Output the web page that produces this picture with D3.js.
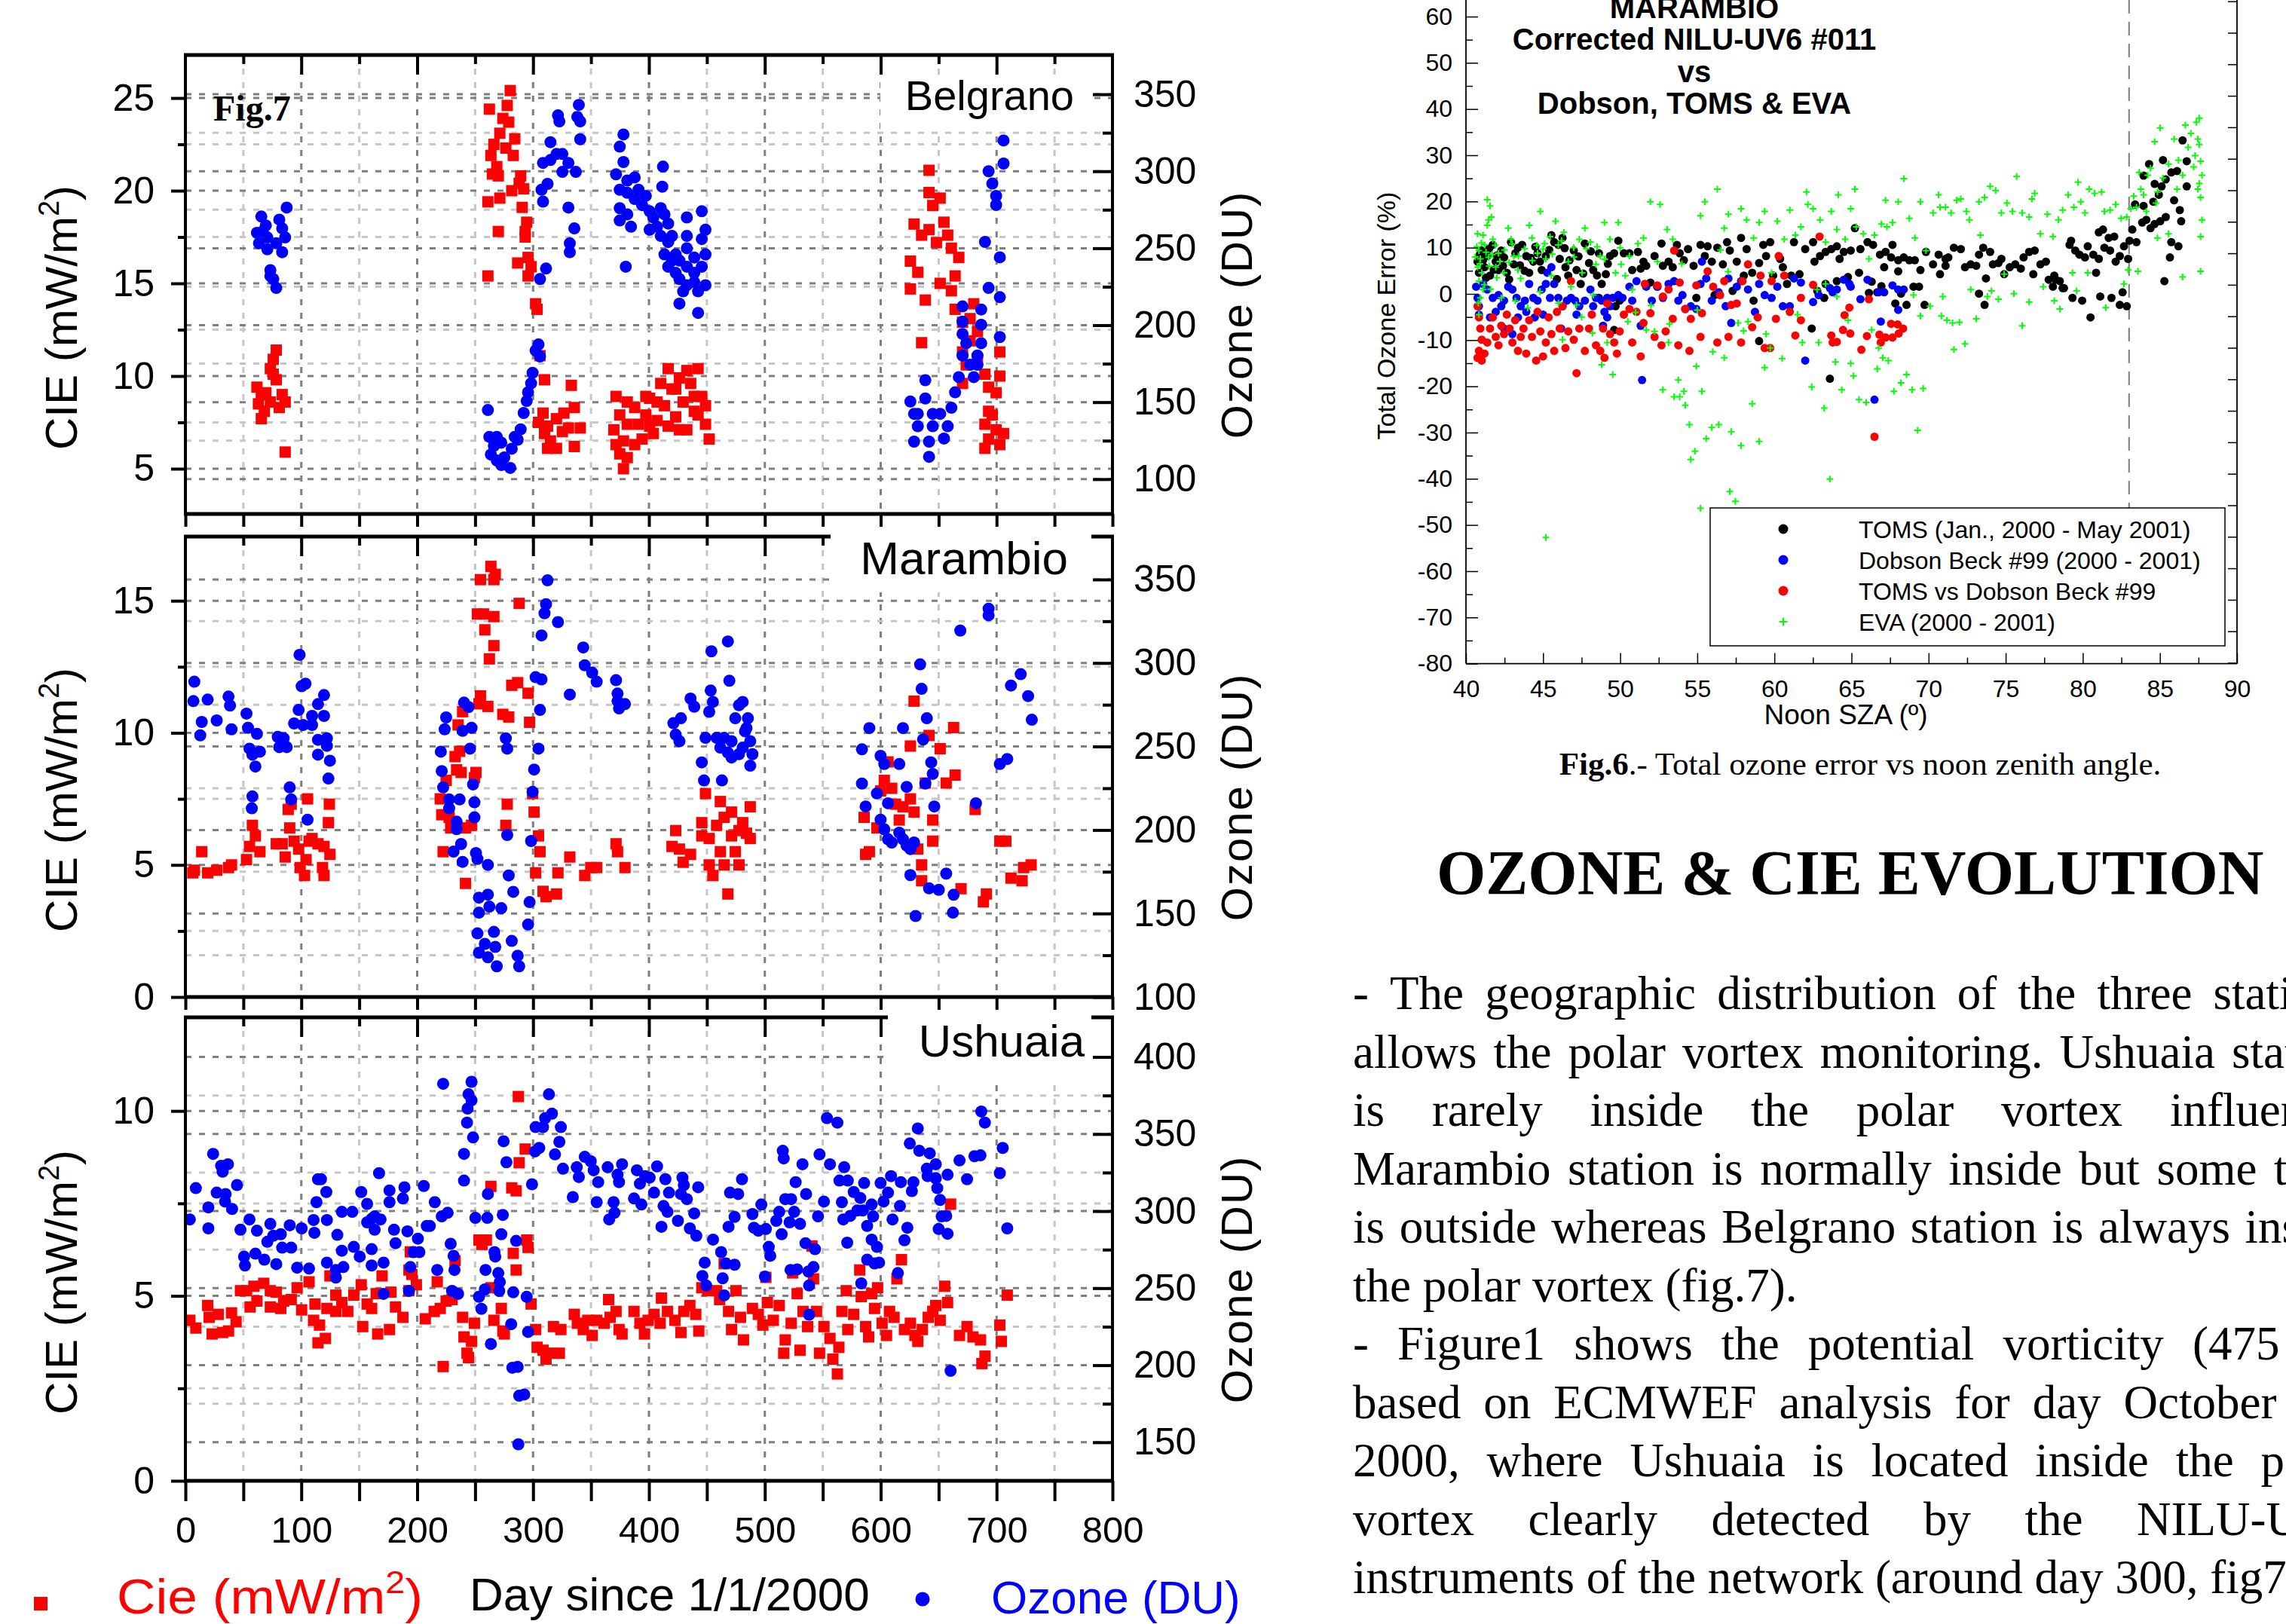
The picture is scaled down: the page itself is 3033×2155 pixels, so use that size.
<!DOCTYPE html>
<html>
<head>
<meta charset="utf-8">
<title>Ozone &amp; CIE evolution</title>
<script src="https://cdn.jsdelivr.net/npm/d3@7"></script>
<style>
  html, body { margin: 0; padding: 0; background: #fff; overflow: hidden; }
  svg { display: block; }
  .sans { font-family: "Liberation Sans", Arial, sans-serif; }
  .serif { font-family: "Liberation Serif", "Times New Roman", serif; }
</style>
</head>
<body>
<script>
// ---- Fig.7 data : [day since 1/1/2000, value] ----
const belgranoCie = [
  [78.4,11.4],[75.8,10.9],[73.3,10.4],[78.4,9.8],[61.7,9.4],[65.5,9],[69.4,9.1],[73.3,8.6],[83.5,9],[86.1,8.6],[81,8.3],[65.5,7.7],[68.1,8.1],[86.1,5.9],[63,8.5],[75.8,10.1],
  [280.3,25.4],[277.7,24.6],[262.3,24.4],[273.9,23.9],[279,23.7],[271.3,23.1],[284.2,22.8],[266.2,22.5],[276.5,22.3],[263.6,21.9],[282.9,21.9],[268.7,21.3],[264.9,20.9],[270,20.8],[289.3,20.8],[288,20.4],[291.9,20.1],[281.6,20],[271.3,19.6],[261,19.4],[290.6,19.1],[294.5,18.3],[293.2,17.8],[270,17.8],[293.2,17.5],[286.7,16.1],[295.7,16.4],[298.3,15.9],[295.7,15.4],[261,15.4],[302.2,13.9],[303.5,13.6],[306,11.1],[309.9,9.8],[333,9.5],[335.6,8.3],[308.6,8],[312.5,7.3],[320.2,7.7],[326.6,8],[330.5,7.2],[340.7,7.2],[315,6.5],[320.2,6.1],[335.6,6.2],[312.5,6.1],[309.9,6.9],[325.3,7],[304.7,7.5],
  [371.6,8.9],[374.8,7.9],[369.7,7.1],[378,6.5],[374.8,5.8],[378,5],[381.3,5.6],[387.7,8.3],[390.9,7.4],[397.3,7.9],[400.6,8.8],[403.8,6.9],[410.2,9.6],[413.4,8.4],[416.6,10.4],[419.9,9.3],[423.1,7.8],[426.3,9.9],[429.5,8.6],[432.7,7.1],[436,9.6],[439.1,8.1],[442.4,10.4],[445.6,8.9],[448.8,7.4],[452,6.6],[394.1,6.6],[407,7.6],[416.6,7.3],[426.3,7.1],[381.3,8.6],[387.7,6.3],[371.6,6.3],[397.3,8.9],[432.7,10.3],[442.4,7.9],[448.8,8.4],[381.3,7.4],[407,8.6],[423.1,9.3],[439.1,8.9],[400.6,7.3],
  [641.7,21.1],[641.7,19.9],[644.9,19.2],[651.3,19.6],[628.8,18.2],[635.3,17.6],[641.7,17.9],[648.1,17.2],[654.6,18.3],[657.8,17.6],[661,16.9],[625.6,16.2],[632,15.6],[664.2,15.4],[667.4,16.4],[625.6,14.7],[638.5,14.1],[651.3,15],[661,14.6],[664.2,13.6],[670.6,12.9],[677.1,13.1],[680.3,13.9],[683.5,12.4],[677.1,11.9],[635.3,11.8],[670.6,11.3],[673.8,10.6],[689.9,10.1],[670.6,9.6],[702.8,10],[693.1,9.4],[699.6,9.1],[693.1,8.1],[689.9,7.4],[699.6,7.1],[706,6.9],[693.1,6.6],[702.8,6.3],[689.9,6.1],[702.8,11.3],[696.3,7.9],[683.5,10.9]
];
const belgranoOzone = [
  [65.5,270.6],[61.7,260],[63.5,253.2],[69.4,264.8],[70.7,257],[70.7,249.3],[66.8,260.9],[81,268.6],[83.5,262.9],[86.1,257],[83.5,247.4],[78.4,253.2],[87.4,276.4],[73.3,235.8],[75.8,230],[78.4,224.2],[73.3,231.9],
  [261,144.9],[262.3,127.5],[268.7,127.5],[272.6,123.7],[266.2,121.7],[263.6,116],[268.7,112.1],[272.6,109.2],[280.3,107.3],[275.2,114.1],[281.6,119.8],[286.7,125.6],[289.3,132.4],[284.2,127.5],[291.9,143],[294.5,150.8],[295.7,156.5],[298.3,162.3],[299.6,169.1],[302.2,183.6],[304.7,187.5],[306,179.7],
  [306,230],[311.2,236.8],[308.6,280.3],[312.5,291.8],[307.3,288],[308.6,305.4],[315,307.3],[315,318.9],[320.2,311.2],[325.3,311.2],[325.3,299.6],[330.5,305.4],[336.9,299.6],[321.5,336.3],[322.7,332.4],[339.5,343.1],[338.2,335.3],[340.7,332.4],[340.7,320.8],[330.5,276.4],[335.6,262.9],[331.7,253.2],[331.7,247.4],
  [378,323.9],[374.8,316],[378,306],[371.6,298],[381.3,294],[374.8,288],[387.7,296],[412.1,303],[411.5,290],[381.3,286],[391,288],[397.3,284],[387.7,282],[374.8,276],[381.3,272],[374.8,268],[384.5,264],[394.1,278],[400.6,274],[403.8,270],[410.2,276],[413.4,272],[407,264],[416.6,266],[400.6,262],[410.2,258],[416.6,254],[413.4,246],[419.9,242],[416.6,238],[423.1,234],[426.3,230],[432.7,238],[432.7,226],[429.5,222],[439.1,228],[442.4,222],[445.6,238],[448.8,246],[445.6,256],[448.8,262],[445.6,274],[432.7,270],[432.7,258],[432.7,250],[426.3,214],[442.4,208],[380,238],[419.9,258],[423.1,246],[439.1,244],[439.1,234],[426.3,242],[448.8,226],
  [625.6,150.4],[628.8,142.4],[632,134.4],[628.8,124.4],[638.5,164.3],[638.5,152.4],[641.7,124.4],[644.9,134.4],[641.7,114.5],[651.3,142.4],[654.6,126.4],[657.8,134.4],[661,146.4],[664.2,156.4],[667.4,166.3],[670.6,180.3],[670.6,194.3],[670.6,202.3],[673.8,188.3],[677.1,174.3],[680.3,166.3],[683.5,180.3],[686.7,188.3],[686.7,200.3],[686.7,210.2],[670.6,212.2],[683.5,174.3],[702.8,192.3],[693.1,224.2],[702.8,218.2],[690,254.1],[702.8,244.1],[693.1,300],[696.3,292],[699.6,284],[699.6,278.1],[706,320],[706,305],[632,142.4],[644.9,142.4]
];
const marambioCie = [
  [6.4,4.7],[7.7,4.8],[19.2,4.7],[27,4.8],[37.2,4.9],[39.8,5],[14.1,5.5],[52.7,5.2],[55.3,5.7],[57.8,6.5],[60.4,6.1],[64.3,5.5],[83.5,5.8],[78.4,5.8],[86.1,5.3],[90,6.4],[88.7,7.1],[91.3,7.3],[93.8,5.9],[97.7,5.6],[99,4.9],[102.8,4.6],[104.1,5.2],[106.7,5.9],[109.3,6],[114.4,5.8],[118.3,4.9],[119.6,4.6],[124.7,5.4],[123.4,6.6],[124.2,7.3],[105.4,7.5],[119.6,5.7],
  [222.4,5.5],[221.2,6.9],[219.9,7.5],[225,8.2],[227.6,6.8],[228.9,6.4],[232.7,9.1],[234,8.6],[235.3,10.3],[239.2,10.8],[236.6,9.3],[237.9,8.5],[241.7,6.4],[246.9,6.5],[249.4,8.3],[250.7,8.5],[253.3,11.1],[254.6,11.4],[261,11],[273.9,10.7],[279,10.6],[281.6,11.8],[286.7,11.9],[295.7,11.5],[297,10.4],[277.7,7.3],[276.5,6.5],[299.6,7.7],[300.9,7],[304.7,6.1],[306,5.5],[302.2,4.7],[308.6,4],[311.2,3.8],[320.2,3.9],[241.7,4.3],[257.2,14.5],[252,14.5],[266.2,14.4],[258.4,13.9],[266.2,13.3],[262.3,12.8],[288,14.9],[254.6,15.8],[263.6,16.3],[267.4,16],[266.2,15.8],[331.7,5.3],[321.5,4.7],[344.6,4.6],[349.8,4.9],[354.9,4.9],[371.6,5.8],[372.9,5.5],[379.3,4.9],
  [419.9,5.7],[423.1,6.3],[426.3,5.6],[429.5,5.1],[435.9,5.4],[445.6,6.6],[448.8,7.7],[452,5],[455.2,4.6],[461.6,7.4],[445.6,6.1],[452,6],[458.4,6.5],[461.6,5.5],[464.9,5],[464.9,6.8],[468.1,3.9],[471.3,6.1],[474.5,5.5],[477.7,5],[480.9,6.6],[484.2,6.2],[487.4,7.2],[487.4,6],[471.3,7],[477.7,6.3],
  [585.7,6.8],[587,5.4],[590.2,5.5],[596.7,6.4],[599.9,7.8],[603.1,8.2],[606.3,8.9],[609.5,7.9],[612.8,7.3],[616,6.7],[619.2,7.2],[625.6,7.5],[628.8,11.2],[628.8,7],[625.6,9.5],[632,5.6],[635.3,5],[635.3,4.4],[638.5,8.1],[641.7,9.9],[644.9,5.9],[644.9,6.7],[651.3,9.4],[656.5,8.1],[662.9,10.2],[664.2,8.4],[669.3,4.1],[681.5,7.1],[688.6,3.6],[691.2,3.9],[702.8,5.9],[708,5.9],[712.4,4.5],[722,4.4],[723.3,4.9],[729.8,5]
];
const marambioOzone = [
  [7.7,288.8],[6.9,277.2],[19.2,278.1],[14.1,264.7],[12.8,256.7],[27,265.6],[37.2,279.9],[38.5,274.5],[39.8,260.3],[52.7,269.7],[54,261.2],[61.7,257.6],[55.3,248.7],[57.8,245.1],[64.3,246.9],[60.4,238],[57.8,220.1],[57.3,213],[79.7,255.8],[84.8,254.9],[81,249.6],[87.4,249.6],[98.5,304.9],[100.3,286.1],[103.6,287.6],[97.7,271.9],[93.8,263.8],[101.5,262.9],[109.3,262.9],[109.3,268.3],[114.4,275.4],[119.6,280.8],[119.6,268.3],[114.4,254],[122.1,254.9],[122.1,250.4],[114.4,245.1],[124.7,241.5],[123.4,230.8],[90,225.5],[91.3,218.3],[105.4,206.2],
  [225,267.4],[223.7,260.3],[220.4,246.9],[221.2,235.3],[222.4,225.5],[227.6,218.3],[227.6,213],[236.6,218.3],[240.4,276.3],[244.3,273.6],[239.2,259.4],[246.9,261.2],[245.6,248.7],[248.2,227.3],[249.4,216.6],[249.4,207.6],[234,205],[234,200.5],[237.9,191.6],[231.4,187.1],[239.2,180.9],[250.7,186.2],[252,182.7],[261,179.1],[253.3,159.5],[261,161.3],[253.3,150.5],[262.3,154.1],[272.6,153.2],[252,138.1],[266.2,139],[258.4,131.8],[267.4,130],[253.3,126.5],[261,123.8],[268.7,118.4],[281.6,133.6],[286.7,124.7],[288,118.4],[279,172.8],[282.9,163],[277.7,197],[297,156.8],[295.7,143.4],[298.3,193.4],[299.6,222.8],[300.9,236.2],[304.7,248.7],[276.5,254.9],[277.7,248.7],[306,271.9],[302.2,291.5],[307.3,290.2],[307.3,316.5],[309.9,329.8],[311.2,335.2],[312.5,349.5],[321.5,324.5],[331.7,281.1],[343.3,309.3],[344.6,298.6],[351,294.2],[354.9,288.8],[371.6,289.7],[372.9,281.7],[372.9,277.2],[374.2,272.8],[379.3,275.4],
  [421.1,264],[423.1,257.1],[426.3,253.2],[427.6,266.9],[435.9,278.7],[439.1,273.8],[448.8,255.2],[452,270.8],[455.2,276.7],[453.3,283.5],[453.9,307],[468.1,312.9],[469.4,289.4],[445.6,240.5],[447.5,229.7],[463,229.7],[458.4,255.2],[464.9,255.2],[471.3,253.2],[461.6,249.3],[468.1,246.4],[471.3,243.4],[477.7,245.4],[480.9,249.3],[474.5,266.9],[477.7,274.7],[480.9,276.7],[485.4,266.9],[484.2,261],[487.4,253.2],[489.3,245.4],[487.4,238.5],[482.9,259.1],
  [583.8,248.3],[590.2,261],[583.8,227.8],[587,214.1],[596.7,221.9],[599.9,244.4],[603.1,239.5],[606.3,216],[599.9,206.2],[603.1,200.4],[606.3,194.5],[609.5,192.5],[616,198.4],[619.2,194.5],[622.4,190.6],[625.6,188.6],[628.8,192.5],[619.2,261],[616,239.5],[622.4,225.8],[625.6,173],[630.1,148.5],[635.3,284.5],[634,299.2],[639.8,266.9],[636.6,254.2],[638.5,227.8],[643.6,240.5],[644.9,233.6],[646.2,214.1],[641.7,165.1],[650.1,164.2],[656.5,173.9],[662.9,161.2],[662.3,150.5],[668.7,319.4],[682.2,216],[693.1,332.5],[693.1,328.6],[702.8,239.5],[709.2,242.5],[712.4,286.5],[720.8,293.3],[727.2,280.2],[730.4,266]
];
const ushuaiaCie = [
  [3.8,4.34],[9,4.13],[19.2,4.74],[20.5,4.42],[23.1,3.97],[28.3,4.5],[32.1,4.01],[37.2,4.05],[39.8,4.54],[43.7,4.3],[47.5,5.14],[52.7,5.14],[55.8,4.7],[61.7,4.86],[59.1,5.26],[67.6,5.34],[73.3,5.14],[73.3,4.7],[78.4,5.1],[82.3,4.66],[84.8,4.86],[91.3,4.9],[96.4,5.22],[100.3,4.62],[106.7,5.38],[111.8,4.78],[110.6,4.34],[115.7,4.21],[114.4,3.73],[120.8,3.85],[122.1,4.66],[129.8,4.58],[124.7,5.54],[129.8,5.02],[135,4.82],[140.1,4.58],[145.3,5.02],[151.7,5.3],[153,4.17],[156.8,4.78],[160.7,4.66],[165.9,3.97],[164.6,5.06],[169.7,5.54],[176.1,4.09],[177.4,5.1],[181.3,4.7],[187.7,4.42],[192.9,5.7],[192.9,5.14],[194.1,6.19],[195.4,5.58],[199.3,5.3],[207,4.38],[214.7,4.58],[217.3,5.38],[222.4,3.09],[219.9,4.66],[225,4.86],[230.1,4.9],[232.7,5.95],[239.2,4.42],[240.4,3.89],[243,3.45],[244.3,3.33],[246.9,3.77],[249.4,4.26],[253.3,6.51],[255.9,6.39],[259.7,6.51],[263.6,7.96],[266.2,4.34],[272.6,4.66],[273.9,4.05],[275.2,3.97],[263.6,5.22],[285.4,5.7],[282.9,6.15],[281.6,7.92],[285.4,7.84],[288,8.6],[287.3,10.39],[293.2,8.97],[294.5,6.51],[295.7,6.31],[298.3,4.78],[302.2,4.09],[303.5,3.61],[308.6,3.53],[311.2,3.29],[313.7,3.45],[317.6,4.17],[322.7,3.45],[324,4.09],[338.2,4.26],[343.3,4.09],[351,3.93],[354.9,4.34],[361.3,4.26],[365.2,4.9],[366.5,4.42],[371.6,4.58],[374.2,4.09],[376.8,3.97],[387.1,4.58],[392.2,4.26],[396.1,3.97],[335.6,4.5],[347.2,4.34],
  [399.3,4.34],[404.4,4.5],[410.8,4.94],[409.6,4.26],[416,4.58],[422.4,4.34],[427.6,4.01],[430.1,4.58],[435.3,4.74],[440.4,4.5],[443,4.05],[445.6,5.22],[450.7,5.14],[458.4,5.14],[464.9,5.87],[461,4.9],[468.7,4.58],[471.3,4.09],[475.1,5.14],[479,4.42],[481.6,3.81],[489.3,4.66],[494.4,4.5],[498.3,4.21],[502.2,4.82],[500.9,5.5],[507.3,4.34],[512.4,4.74],[517.6,3.81],[516.3,3.45],[522.7,4.26],[524,5.62],[527.9,5.06],[530.4,3.53],[533,4.58],[536.9,4.17],[540.7,6.35],[542,5.46],[544.6,4.58],[547.2,3.45],[551,4.17],[556.2,3.85],[558.7,3.29],[562.6,2.89],[563.9,3.61],[566.5,4.58],[570.3,5.14],[571.6,4.09],[576.7,4.5],[581.9,5.7],[583.2,4.98],[587,4.17],[589.6,3.89],[592.2,5.06],[594.7,4.66],[597.3,5.22],[601.2,4.26],[605,3.93],[607.6,4.58],[611.5,4.42],[614,5.46],[617.9,5.98],[620.5,4.09],[625.6,4.26],[629.5,3.93],[632,3.77],[635.9,4.09],[641,4.42],[644.9,4.58],[647.5,4.74],[651.3,4.34],[655.2,5.26],[657.7,4.82],[660.3,7.48],[668,3.93],[674.5,4.17],[679.6,3.89],[686.1,3.81],[687.3,3.17],[690,3.37],[702.8,4.21],[704.1,3.77],[709.2,5.02]
];
const ushuaiaOzone = [
  [3.8,294.6],[9,314.9],[23.9,337.1],[19.8,302.4],[19.8,288.8],[30.8,329.4],[36.7,330.4],[32.1,325.6],[27,312],[34.7,311.1],[34.2,306.2],[40.3,301.4],[44.5,316.9],[47.5,287.9],[55.3,294.6],[61.7,287.3],[50.6,270.5],[51.4,264.7],[60.4,272.4],[68.1,268.5],[73.3,291.7],[70.7,280.1],[75.8,284],[82.3,285],[83.5,276.3],[91.3,276.3],[78.4,265.6],[90,290.8],[100.3,288.8],[96.4,263.3],[106.7,262.7],[110.6,294.2],[113.1,305.8],[114.4,320.7],[117,320.7],[121.6,312.4],[122.1,294.2],[111.3,285.9],[131.1,284.6],[135,299.5],[144,299.5],[122.1,266.6],[129.8,256.9],[129.8,261.8],[136.3,263.7],[135,274.3],[145.3,276.8],[150.4,270.5],[151.7,312.4],[156.8,304.7],[160.7,295],[163.3,296.6],[167.1,324.6],[168.4,294.6],[160.7,275.3],[160.7,264.7],[156.8,292.7],[163.3,287.9],[171,266.6],[171,246.3],[176.1,313.4],[176.1,305.8],[180,287.9],[181.3,279.2],[189,315.5],[187.7,308.2],[191.6,286.9],[194.1,263.7],[192.9,248.2],[196.7,273.4],[200.6,282.1],[205.7,316.3],[201.9,273.4],[215.2,305.8],[208.3,290.4],[210.9,290.4],[221.2,296.6],[226.3,298.9],[222.4,382.6],[217.3,261.8],[228.9,278.8],[231.4,271],[232.2,261.8],[230.1,248.2],[235.3,246.3],[240.4,337.1],[240.4,319.8],[243,357.4],[243.5,366.5],[244.3,375.8],[246.9,383.9],[246.9,371.9],[248.2,347.8],[250.2,295.6],[255.4,236.6],[253.3,244.4],[258.4,249.2],[259,261.8],[260.5,295.6],[261,311.1],[266.7,273.4],[267.4,270.5],[270,259.8],[271.3,254],[270.8,248.2],[272.6,285],[273.9,297.5],[274.6,345.3],[277,331.7],[263.6,213.8],[281.1,226.6],[282.9,247.3],[285.4,280.7],[294.5,244.4],[295.7,221.6],[282.1,198.4],[286.7,198.9],[288,180.2],[292.4,181],[287.3,148.7],[299.1,317.4],[301.7,338.7],[305.3,341],[302.2,354.5],[308.6,354.5],[313.7,375.8],[310.4,360.3],[316.3,363.2],[318.9,336.8],[322.7,344.9],[324,354.5],[325.8,327.5],[334.3,309.1],[337.7,328.5],[339.5,322.1],[344.6,335.2],[349.8,332.3],[352.3,326.5],[356.2,318.8],[354.9,305.8],[364.4,328.5],[369.5,305.8],[370.3,298.9],[365.7,294.6],[372.9,323.6],[374.2,318.8],[376.8,330.4],[389.6,326.5],[387.1,308.2],[392.2,317.8],[393.5,304.3],
  [396.7,322.7],[400.6,321.7],[407,329],[404.4,312],[412.6,303.3],[416,299.5],[410.8,289.8],[414.2,320.7],[417.3,312],[425,293.7],[428.9,321.7],[430.1,316.9],[427.6,311.1],[432.7,307.8],[435.3,288.8],[439.1,298.5],[440.9,284],[442.5,315.5],[455.3,281.5],[462.3,273.4],[466.1,266],[473.9,265.2],[448.1,266.6],[446.1,257.9],[449.4,251.7],[463.6,256.4],[464.9,245.3],[470,312],[477,311.1],[468.7,289.8],[473.9,296.2],[480.3,320.7],[489.3,298.1],[497,304.3],[494.4,287.3],[500.9,288.4],[490.6,289.2],[503.4,276.8],[504.7,271],[500.1,257.5],[509.9,293.7],[512.4,299.5],[515.5,339.1],[516.3,334.2],[514.5,285],[517.6,307.8],[522.7,307.8],[521.4,292.7],[525.3,299.5],[526.6,318.8],[530.4,291.7],[532.5,330.4],[535.6,311.1],[522.2,261.8],[527.9,262.2],[537.6,260.8],[542,263.7],[535.1,279.2],[543.3,275.3],[538.2,251.7],[538.2,232.8],[545.9,296.6],[547.2,336.8],[551,306.2],[553.6,360.3],[556.2,330.4],[562.6,357.4],[564.4,319.8],[566.5,305.8],[568.5,328.5],[571.6,319.8],[567.7,294.6],[573.7,296.9],[571.1,279.5],[576.7,312.4],[582.4,308.5],[585.7,318.2],[579.8,300.4],[584.5,300.4],[588.3,290.4],[592.2,304.3],[593.5,296.6],[592.2,281.5],[596.8,276.8],[588.3,268.5],[594.7,266],[598.6,266.6],[583.2,253.1],[599.9,318.2],[606.3,312],[602.5,306.2],[608.9,322.7],[610.2,294.6],[617.4,318.8],[616.6,303.3],[620.5,281.1],[623,289.2],[626.9,313],[628.2,318.8],[614.8,259.8],[625.1,343.9],[632,353.6],[633.3,339.1],[642.3,337.5],[639.8,327.5],[640.5,322.7],[647.5,330.4],[647.5,321.3],[648.8,314.9],[651.3,307.2],[652.6,296.6],[656.5,296.9],[650,288.4],[657.7,285.3],[657.7,323.6],[668,332.9],[674.5,320.7],[680.9,335.6],[686.1,336.2],[686.8,364.6],[689.9,357.4],[705.3,341],[702.8,324.6],[709.2,288.8],[660.3,196.4]
];
const dayTicks = [0, 100, 200, 300, 400, 500, 600, 700, 800];

// ---- Fig.6 data : [noon SZA (deg), total ozone error (%)] ----
const tomsErr = [
  [40.75,6.98],[40.84,4.57],[41.02,9.39],[41.2,5.77],[41.38,8.19],[41.56,3.96],[41.74,10.6],[41.93,6.98],[42.11,5.17],[42.29,9.39],[42.47,7.89],[42.65,4.57],[42.92,11.2],[43.1,6.38],[43.37,10],[43.64,10.6],[43.91,8.19],[44.1,4.57],[44.37,6.98],[44.64,8.79],[44.91,5.17],[45.18,8.19],[45.54,12.71],[45.72,11.2],[45.99,10.6],[46.26,12.11],[46.08,7.58],[46.45,5.77],[46.63,3.96],[46.72,7.28],[46.99,9.39],[47.17,5.17],[47.44,2.16],[47.71,10.9],[47.98,6.68],[48.25,5.17],[48.62,8.79],[48.8,2.16],[49.07,4.27],[49.34,8.19],[49.61,8.79],[49.88,11.51],[49.97,-1.46],[50.24,8.79],[50.6,8.79],[50.78,5.17],[51.15,9.09],[51.33,5.47],[51.51,6.98],[51.69,6.08],[51.96,2.46],[52.23,8.19],[52.41,1.55],[52.68,10.9],[52.77,6.08],[53.14,6.98],[53.41,5.77],[53.68,10.6],[53.86,8.79],[54.13,7.28],[54.4,9.7],[54.76,6.08],[54.94,-0.86],[55.21,10.6],[55.49,8.19],[55.67,10.3],[55.94,6.98],[56.12,-0.26],[56.3,10],[56.66,6.38],[56.93,11.2],[57.11,9.39],[57.29,0.65],[57.56,6.98],[57.84,12.11],[58.02,3.96],[58.2,9.7],[58.56,4.57],[58.65,-1.46],[59.01,6.68],[59.28,10.6],[59.46,8.19],[59.73,11.2],[59.92,3.96],[60.37,7.58],[60.55,5.77],[60.82,2.16],[61.09,3.96],[61.27,11.2],[61.63,4.27],[62,9.7],[59.01,-10.21],[49.7,-2.67],[49.61,-7.8],[48.62,-0.86],
  [40.9,8.5],[41.1,7.2],[41.3,3.5],[41.5,9.8],[41.8,5.2],[42,8.3],[42.4,6.1],[42.8,3.1],[43.2,8.8],[43.5,6.2],[43.8,5],[44.2,7.8],[44.5,10.2],[44.8,7],[45.4,9.5],[45.9,3.2],[46.4,9.9],[47.3,8.1],[47.6,4.4],[48.1,9.2],[48.5,4],[49.2,6.5],
  [62.51,11.2],[62.6,6.98],[62.96,8.19],[63.32,9.09],[63.69,9.7],[64.05,10.3],[64.23,7.58],[64.5,9.09],[64.95,9.39],[65.22,14.22],[65.58,9.7],[66.04,11.2],[66.4,10.6],[66.85,8.49],[67.21,9.09],[67.66,10.6],[67.57,7.89],[68.03,7.28],[68.39,7.89],[68.75,7.28],[69.11,7.28],[69.47,5.17],[69.83,9.09],[70.29,6.38],[70.65,8.49],[71.1,7.58],[71.28,7.89],[70.74,4.27],[71.1,6.08],[71.64,10],[72.09,9.7],[72.36,5.77],[72.73,6.38],[73.09,6.08],[73.27,8.49],[73.54,10],[73.72,3.36],[73.99,9.09],[74.17,6.38],[74.53,6.68],[74.72,7.58],[74.9,4.27],[75.26,5.77],[75.62,6.38],[75.98,5.47],[76.16,7.89],[76.52,9.09],[76.88,9.39],[76.79,4.27],[77.25,6.38],[77.61,6.98],[77.79,3.06],[78.15,3.96],[78.51,2.76],[78.78,1.25],[79.14,10.6],[79.24,11.51],[79.51,9.39],[79.78,8.49],[80.14,7.89],[80.32,10.3],[80.68,8.49],[81.04,7.58],[81.4,10],[81.77,9.39],[82.13,6.98],[82.4,8.19],[82.67,10.3],[82.94,7.58],[83.03,11.51],[81.04,13.31],[81.31,13.92],[81.68,12.11],[82.04,12.41],[83.21,13.92],[83.48,11.2],[83.85,15.43],[84.12,16.03],[84.39,14.22],[84.66,15.12],[85.02,15.73],[85.38,16.63],[85.74,11.2],[86.2,10.3],[83.39,19.35],[83.94,19.04],[84.57,19.95],[84.93,21.46],[85.11,23.27],[85.38,24.78],[85.74,26.28],[86.11,26.58],[86.47,33.22],[85.2,28.96],[84.3,28.09],[86.74,28.7],[86.74,23.27],[86.29,18.14],[85.92,20.25],[86.38,15.73],[85.29,2.76],[85.65,7.89],[84.66,23.8],[83.94,25.6],[80.86,4.57],[80.5,-5.08],[81.13,-0.56],[81.86,-0.86],[82.4,-2.37],[82.85,-2.67],[82.58,0.35],[79.33,-0.86],[79.96,-1.46],[78.69,1.25],[78.24,3.06],[78.06,1.55],[73.27,0.05],[73.63,-2.37],[69.74,-2.37],[68.57,-2.37],[68.21,0.05],[67.84,-2.07],[63.23,-0.86],[62.78,0.65],[62.42,-7.5],[63.6,-18.35],[66.13,0.22],[66.94,1.67],[66.67,0.35],[69.02,1.55],[69.38,1.55],[66.31,2.64],[65.49,4.57],[64.77,3.66],[64.05,2.76],[63.32,2.16],[67.12,5.77],[68.03,4.87]
];
const dobsonErr = [
  [40.66,1.55],[40.75,-0.86],[40.84,-2.67],[41.11,2.16],[41.38,0.95],[41.74,-0.86],[42.11,-0.26],[42.29,-2.67],[42.47,-1.46],[42.74,1.55],[43.01,0.95],[43.28,-0.86],[43.55,-2.67],[43.82,-1.46],[44.1,2.16],[44.37,-0.86],[44.64,-1.46],[44.91,0.95],[45.18,2.16],[45.45,-0.86],[45.54,5.77],[45.27,4.57],[45.72,2.16],[45.99,-0.86],[46.26,-2.67],[46.54,-1.46],[46.81,-0.86],[47.08,-1.46],[47.35,-2.67],[47.71,-1.46],[48.07,0.95],[48.25,-2.67],[48.43,-0.86],[48.8,-1.46],[48.98,-3.88],[49.34,-2.67],[49.52,-0.86],[49.88,-0.26],[50.15,-0.86],[50.6,1.55],[50.78,-1.46],[51.06,2.76],[51.33,-6.89],[51.69,1.55],[52.05,-1.46],[52.41,1.55],[52.77,-0.86],[53.14,2.16],[53.5,2.76],[53.77,-1.46],[54.04,-0.26],[54.22,-3.27],[54.58,-2.67],[54.94,-3.27],[55.21,2.16],[55.3,6.98],[55.58,3.36],[55.94,-1.46],[56.39,0.35],[56.84,-2.67],[57.02,3.36],[57.2,-6.29],[57.56,1.55],[57.84,2.76],[58.29,0.95],[58.74,-3.88],[59.01,2.16],[59.37,-0.26],[59.82,-0.86],[60.19,1.55],[60.55,-2.67],[61,-2.67],[61.27,3.36],[61.72,2.46],[62,-14.43],[42.47,-7.5],[43.01,-8.7],[46.17,-7.5],[40.84,-4.48],[41.56,-5.08],[41.93,-3.88],[43.37,-5.08],[43.91,-3.88],[44.46,-5.08],[45,-4.48],[47.17,-4.48],[48.89,-6.89],[49.16,-5.08],[51.42,-18.65],[49.16,-0.86],
  [62.51,-1.76],[62.87,-0.26],[63.6,1.25],[64.05,0.95],[63.78,0.35],[64.5,3.06],[64.86,2.16],[64.95,1.55],[65.58,-1.16],[66.04,3.06],[66.76,0.35],[67.12,0.35],[67.66,1.85],[68.03,0.95],[68.39,0.95],[68.03,-3.45],[66.9,-5.99],[66.49,-22.88]
];
const tomsDobErr = [
  [40.75,-2.67],[40.84,-5.08],[40.93,-7.5],[41.02,-9.91],[40.84,-12.32],[40.75,-13.83],[41.02,-14.43],[41.2,-12.92],[41.38,-10.51],[41.56,-7.5],[41.74,-5.08],[41.93,-9.31],[42.11,-11.12],[42.29,-6.89],[42.47,-8.7],[42.65,-4.48],[42.83,-7.5],[43.01,-10.51],[43.19,-5.69],[43.37,-12.32],[43.55,-9.31],[43.73,-7.5],[43.91,-12.92],[44.1,-5.69],[44.28,-9.31],[44.55,-14.43],[44.64,-3.88],[44.82,-8.1],[45,-13.53],[45.18,-10.51],[45.36,-5.08],[45.54,-8.7],[45.72,-12.32],[45.9,-3.88],[46.08,-7.5],[46.26,-2.67],[46.45,-11.72],[46.63,-8.1],[46.81,2.76],[46.99,-9.91],[47.17,-17.15],[47.35,-7.5],[47.71,-12.32],[47.98,-7.5],[48.16,-4.48],[48.43,-11.12],[48.71,-12.32],[48.89,-7.5],[48.98,-13.83],[49.16,-2.07],[49.34,-8.7],[49.61,-10.51],[49.79,-12.92],[49.97,-8.1],[50.24,-4.48],[50.6,-3.27],[50.78,-10.51],[51.06,-3.88],[51.33,-13.53],[51.51,-6.29],[51.6,2.16],[51.96,-4.18],[52.23,-9.31],[52.41,1.85],[52.68,-11.12],[52.77,-0.56],[52.95,-8.1],[53.14,0.95],[53.41,-5.39],[53.77,-11.12],[53.86,2.46],[54.22,-3.27],[54.49,-12.32],[54.58,-5.39],[54.94,1.85],[55.21,-9.31],[55.3,-4.18],[55.67,4.87],[56.03,1.55],[56.3,-10.51],[56.48,-0.26],[56.75,2.76],[57.02,-9.31],[57.2,-2.37],[57.56,-2.07],[57.84,-10.51],[57.93,2.76],[58.29,6.38],[58.56,-7.2],[58.92,-5.08],[59.1,3.96],[59.37,-11.72],[59.73,-11.72],[59.82,2.76],[60.1,-5.39],[60.28,8.19],[60.64,3.96],[61,-3.88],[61.36,-9],[61.72,-5.69],[61.72,-0.86],[53.5,9.39],
  [62.93,12.41],[62.51,1.97],[66.13,-1.16],[64.86,-2.97],[64.55,-4.6],[64.45,-7.8],[64.92,-8.58],[63.69,-9],[63.78,-10.51],[64.05,-10.39],[65.64,-12.08],[66,-9.12],[66.81,-8.82],[66.9,-10.51],[67.21,-9.43],[67.66,-9.43],[67.57,-6.47],[67.99,-6.59],[68.35,-7.5],[68.06,-8.58],[66.49,-30.9]
];
const evaErr = [
  [40.75,13.01],[41.11,12.71],[41.38,20.37],[41.56,19.04],[41.47,16.03],[41.65,16.63],[41.38,14.82],[40.84,9.39],[40.93,7.58],[40.75,5.77],[41.02,4.57],[40.84,2.76],[41.11,0.95],[40.93,-0.86],[40.84,-4.48],[41.2,10.6],[41.47,7.89],[41.74,11.81],[41.93,5.77],[42.11,8.79],[42.29,-0.86],[42.47,4.57],[42.74,14.22],[42.92,11.81],[43.1,8.19],[43.37,5.17],[43.55,3.36],[44.1,14.82],[44.28,12.11],[44.64,8.79],[44.82,17.84],[45,9.7],[45.18,7.58],[45.45,12.41],[45.54,3.96],[45.81,15.73],[45.99,10.6],[46.26,-9.91],[46.35,13.31],[46.63,6.98],[46.81,1.55],[46.99,10],[47.17,-2.37],[47.35,11.81],[47.53,4.57],[47.71,14.22],[48.07,11.2],[48.25,-0.26],[48.43,6.38],[48.71,8.19],[48.8,-15.34],[48.98,15.43],[49.16,-10.51],[49.34,11.81],[49.52,-17.45],[49.7,4.57],[49.88,15.43],[50.06,6.38],[50.33,3.96],[50.6,8.19],[50.78,0.95],[51.15,10.9],[51.51,12.11],[51.69,-7.8],[51.96,19.95],[52.23,-8.1],[52.41,6.98],[52.59,19.35],[52.77,-20.77],[53.04,13.92],[53.14,-10.51],[53.41,11.81],[53.5,-22.27],[53.77,-18.65],[53.86,-22.27],[54.13,-21.07],[54.22,-24.08],[54.49,-28.3],[54.85,-34.04],[54.58,-35.85],[54.94,-15.64],[55.21,-46.4],[55.21,16.93],[55.3,-21.07],[55.58,-31.32],[55.49,19.95],[55.94,-28.91],[56.3,22.66],[56.39,-28.3],[56.75,14.22],[56.75,-13.83],[57.02,17.24],[57.11,-42.78],[57.2,-29.81],[57.47,-44.89],[57.65,-6.29],[57.84,18.44],[57.84,-32.83],[58.2,16.03],[58.29,-5.99],[58.56,-23.78],[58.65,12.11],[59.01,-31.93],[59.01,15.43],[59.37,17.84],[59.37,-15.94],[59.46,-8.7],[59.73,-11.72],[59.82,4.57],[60.19,15.73],[60.64,11.81],[61,18.14],[61.36,12.71],[61.72,14.52],[61.81,-10.51],[62.08,22.06],[62.17,19.35],[45.18,-52.73],
  [40.6,8],[40.7,10.2],[40.9,6.5],[41,11],[41.3,9],[41.5,6],[41.7,8.5],[41.9,10.5],[42.2,7],[42.5,9.5],[42.8,6.8],[43,10.8],[43.4,8.2],[43.8,9.8],[44.3,7.2],[44.6,10.5],[45.1,10.9],[45.6,8.6],[46.2,11.5],[47,8],[47.8,9.8],[48.5,10.2],[49,7.5],[50,10],[41.2,2],[41.6,1],[42,3.5],[40.8,-2],[43.2,-1.5],[44,-3],[44.8,0.5],[46,-2],[47.5,-5],[48.2,-8.5],[50.5,-6],[51,-4],[52,-2.5],[53.2,-6.5],[55,-3.5],[56,-12.5],[58,-8],[60.5,-14],[61.5,-4.5],[57,4.8],[54,6.5],[56.5,9.5],
  [62.51,18.44],[62.96,16.03],[63.32,11.2],[63.69,17.84],[64.14,21.46],[64.05,13.92],[64.59,11.81],[64.95,18.44],[65.22,22.66],[65.31,14.52],[65.77,13.01],[66.13,7.58],[66.49,12.71],[66.94,15.12],[67.21,20.25],[67.3,14.52],[67.66,15.43],[68.03,19.95],[68.39,24.96],[68.75,16.33],[69.11,12.11],[69.47,19.95],[69.83,9.39],[70.29,17.54],[70.65,21.46],[70.74,18.74],[71.1,18.74],[71.46,17.54],[71.82,20.25],[72.09,20.55],[72.46,17.84],[72.64,16.03],[73.27,19.95],[73.36,12.71],[73.63,20.85],[73.99,23.27],[74.35,22.36],[74.72,17.54],[75.08,19.65],[75.44,17.84],[75.71,25.38],[76.07,17.54],[76.52,16.63],[76.7,20.55],[76.88,21.76],[77.25,13.01],[77.7,17.24],[78.06,12.41],[78.42,16.03],[78.69,18.14],[79.05,21.46],[79.42,18.74],[79.69,24.17],[79.87,19.95],[80.14,17.54],[80.41,22.66],[80.77,21.76],[81.22,22.06],[81.4,17.84],[81.77,18.14],[82.13,19.35],[82.49,16.33],[82.85,16.63],[83.12,18.44],[83.3,21.16],[83.66,26.28],[83.94,21.46],[84.21,25.68],[83.76,22.66],[84.12,17.84],[84.39,27.19],[84.66,32.92],[84.75,19.65],[85.02,35.93],[84.84,22.06],[85.2,25.08],[85.56,28.09],[85.92,33.52],[86.11,22.66],[86.2,28.96],[86.47,25.68],[86.65,36.54],[86.83,31.71],[87.01,34.73],[87.19,27.49],[87.28,29.9],[87.37,37.14],[87.46,33.52],[87.55,38.05],[87.55,32.32],[87.64,28.7],[87.73,25.68],[87.55,23.87],[87.46,22.66],[87.64,20.85],[87.73,16.03],[87.64,12.41],[87.64,4.87],[86.47,3.66],[85.56,13.01],[84.84,12.11],[83.48,18.74],[82.67,2.16],[82.94,5.17],[83.57,4.87],[81.49,-2.97],[80.32,4.57],[79.6,0.65],[79.33,4.57],[78.51,-3.27],[78.15,-1.46],[77.43,1.55],[76.07,-6.89],[76.52,-1.76],[75.53,0.05],[74.9,4.27],[74.53,-1.16],[74.08,0.65],[73.81,-0.56],[73.09,-5.39],[72.73,0.95],[72.36,-10.81],[71.64,-12.02],[72,-6.17],[71.55,-6.29],[71.19,-5.69],[70.83,-4.78],[70.92,-0.56],[70.1,-2.67],[69.47,-4.78],[69.02,-0.26],[68.57,-17.45],[68.21,-19.26],[67.75,-21.07],[68.93,-20.77],[69.65,-20.46],[69.29,-29.51],[67.39,-14.43],[67.03,-13.83],[66.67,-16.24],[66.76,-11.72],[66.31,-7.8],[65.49,-22.88],[65.95,-23.48],[65.13,-17.75],[64.95,-15.04],[64.37,-20.77],[63.96,-14.73],[63.23,-24.69],[62.87,-10.51],[63.6,-40.07],[62.42,-20.16],[64.77,-5.69],[64.05,-0.56],[63.32,2.16],[62.78,0.95]
];
const szaTicks = [40, 45, 50, 55, 60, 65, 70, 75, 80, 85, 90];
const errTicks = [-80, -70, -60, -50, -40, -30, -20, -10, 0, 10, 20, 30, 40, 50, 60];
const legend6 = ["TOMS (Jan., 2000 - May 2001)", "Dobson Beck #99 (2000 - 2001)", "TOMS vs Dobson Beck #99", "EVA (2000 - 2001)"];
const title6 = ["MARAMBIO", "Corrected NILU-UV6 #011", "vs", "Dobson, TOMS & EVA"];

const bodyLines = [
  "- The geographic distribution of the three stations",
  "allows the polar vortex monitoring. Ushuaia station",
  "is rarely inside the polar vortex influence,",
  "Marambio station is normally inside but some time",
  "is outside whereas Belgrano station is always inside",
  "the polar vortex (fig.7).",
  "- Figure1 shows the potential vorticity (475 K)",
  "based on ECMWEF analysis for day October 28,",
  "2000, where Ushuaia is located inside the polar",
  "vortex clearly detected by the NILU-UV6",
  "instruments of the network (around day 300, fig7)."
];
const lastLines = [5, 10];

const width = 3033, height = 2155;
const svg = d3.select("body").append("svg").attr("width", width).attr("height", height);
const plain = d => String(d); // keeps the hyphen-minus of the original labels

// ================= Fig.7 =================
const x7 = d3.scaleLinear().domain([0, 800]).range([246, 1476]);
const panels = [
  { name: "Belgrano", top: 73, bottom: 682, cie: [2.56, 27.32], oz: [77.4, 375.5],
    cieTicks: [5, 10, 15, 20, 25], ozTicks: [100, 150, 200, 250, 300, 350],
    cieData: belgranoCie, ozData: belgranoOzone, botTick: 17,
    label: { x: 1425, y: 146, size: 56 }, box: [1168, 99, 1448, 174] },
  { name: "Marambio", top: 712, bottom: 1323, cie: [0, 17.43], oz: [100, 375.7],
    cieTicks: [0, 5, 10, 15], ozTicks: [100, 150, 200, 250, 300, 350],
    cieData: marambioCie, ozData: marambioOzone, botTick: 17,
    label: { x: 1417, y: 762, size: 62 }, box: [1102, 706, 1448, 786] },
  { name: "Ushuaia", top: 1350, bottom: 1965, cie: [0, 12.53], oz: [125, 425.7],
    cieTicks: [0, 5, 10], ozTicks: [150, 200, 250, 300, 350, 400],
    cieData: ushuaiaCie, ozData: ushuaiaOzone, botTick: 27,
    label: { x: 1439, y: 1402, size: 60 }, box: [1178, 1347, 1448, 1432] }
];
const isMult = (v, s) => Math.abs(v / s - Math.round(v / s)) < 1e-6;

panels.forEach((p, i) => {
  const yC = d3.scaleLinear().domain(p.cie).range([p.bottom, p.top]);
  const yO = d3.scaleLinear().domain(p.oz).range([p.bottom, p.top]);
  const g = svg.append("g").attr("class", "sans");
  const inside = y => y > p.top + 3 && y < p.bottom - 3;

  const cieAll = d3.range(Math.ceil(p.cie[0] / 2.5) * 2.5, p.cie[1], 2.5);
  const ozAll = d3.range(Math.ceil(p.oz[0] / 25) * 25, p.oz[1], 25);
  const hLines = cieAll.map(v => ({ y: yC(v), major: isMult(v, 5) }))
    .concat(ozAll.map(v => ({ y: yO(v), major: isMult(v, 50) })))
    .filter(d => inside(d.y));
  const vLines = d3.range(50, 800, 50).map(v => ({ x: x7(v), major: v % 100 === 0 }));

  const grid = g.append("g").attr("stroke-width", 3).attr("stroke-dasharray", "8,10");
  grid.selectAll(".v").data(vLines).join("line")
    .attr("x1", d => d.x).attr("x2", d => d.x).attr("y1", p.top).attr("y2", p.bottom)
    .attr("stroke", d => d.major ? "#7f7f7f" : "#c6c6c6");
  grid.selectAll(".h").data(hLines).join("line")
    .attr("x1", x7(0)).attr("x2", x7(800)).attr("y1", d => d.y).attr("y2", d => d.y)
    .attr("stroke", d => d.major ? "#7f7f7f" : "#c6c6c6");

  g.append("g").selectAll("rect").data(p.cieData).join("rect")
    .attr("x", d => x7(d[0]) - 7.5).attr("y", d => yC(d[1]) - 7.5)
    .attr("width", 15).attr("height", 15).attr("fill", "#ff0000");
  g.append("g").selectAll("circle").data(p.ozData).join("circle")
    .attr("cx", d => x7(d[0])).attr("cy", d => yO(d[1])).attr("r", 8).attr("fill", "#0000ff");

  // axes
  const ax = g.append("g");
  ax.append("g").attr("transform", `translate(${x7(0)},0)`)
    .call(d3.axisLeft(yC).tickValues(p.cieTicks).tickFormat(plain).tickSize(19).tickPadding(22).tickSizeOuter(0));
  ax.append("g").attr("transform", `translate(${x7(0)},0)`)
    .call(d3.axisLeft(yC).tickValues(cieAll.filter(v => !isMult(v, 5) && inside(yC(v)))).tickSize(10).tickFormat(""));
  ax.append("g").attr("transform", `translate(${x7(800)},0)`)
    .call(d3.axisRight(yO).tickValues(p.ozTicks).tickFormat(plain).tickSize(-26).tickPadding(28).tickSizeOuter(0));
  ax.append("g").attr("transform", `translate(${x7(800)},0)`)
    .call(d3.axisRight(yO).tickValues(ozAll.filter(v => !isMult(v, 50) && inside(yO(v)))).tickSize(-13).tickFormat(""));
  ax.append("g").attr("transform", `translate(0,${p.top})`)
    .call(d3.axisTop(x7).tickValues(d3.range(100, 800, 100)).tickSize(-26).tickFormat(""));
  ax.append("g").attr("transform", `translate(0,${p.top})`)
    .call(d3.axisTop(x7).tickValues(d3.range(50, 800, 100)).tickSize(-12).tickFormat(""));
  ax.append("g").attr("transform", `translate(0,${p.bottom})`)
    .call(d3.axisBottom(x7).tickValues(d3.range(0, 801, 50)).tickSize(p.botTick).tickFormat(""));

  if (i === panels.length - 1) {
    ax.append("g").attr("class", "xlab").attr("transform", `translate(0,${p.bottom})`)
      .call(d3.axisBottom(x7).tickValues(dayTicks).tickFormat(plain).tickSize(0).tickPadding(47));
  }
  ax.selectAll(".domain").remove();
  ax.selectAll(".tick line").attr("stroke", "#000").attr("stroke-width", 4);
  ax.selectAll("text").attr("fill", "#000").attr("font-size", 50);
  ax.selectAll(".xlab text").attr("font-size", 49);
  ax.selectAll("g").attr("font-family", null).attr("font-size", null);

  // frame
  const fr = g.append("g").attr("stroke", "#000");
  fr.append("line").attr("x1", x7(0) - 2).attr("x2", x7(800) + 2).attr("y1", p.top).attr("y2", p.top).attr("stroke-width", 5);
  fr.append("line").attr("x1", x7(0) - 2).attr("x2", x7(800) + 2).attr("y1", p.bottom).attr("y2", p.bottom).attr("stroke-width", 5);
  fr.append("line").attr("x1", x7(0)).attr("x2", x7(0)).attr("y1", p.top).attr("y2", p.bottom).attr("stroke-width", 4);
  fr.append("line").attr("x1", x7(800)).attr("x2", x7(800)).attr("y1", p.top).attr("y2", p.bottom).attr("stroke-width", 4);

  // station label on white box
  g.append("rect").attr("x", p.box[0]).attr("y", p.box[1])
    .attr("width", p.box[2] - p.box[0]).attr("height", p.box[3] - p.box[1]).attr("fill", "#fff");
  g.append("text").attr("x", p.label.x).attr("y", p.label.y).attr("text-anchor", "end")
    .attr("font-size", p.label.size).text(p.name);

  // axis titles
  const mid = (p.top + p.bottom) / 2 + 44;
  const ct = g.append("text").attr("transform", `translate(81,${mid}) rotate(-90)`)
    .attr("text-anchor", "middle").attr("dy", "0.35em").attr("font-size", 60);
  ct.append("tspan").text("CIE (mW/m");
  ct.append("tspan").attr("font-size", 38).attr("dy", -24).text("2");
  ct.append("tspan").attr("dy", 24).text(")");
  g.append("text").attr("transform", `translate(1641,${mid - 4}) rotate(-90)`)
    .attr("text-anchor", "middle").attr("dy", "0.35em").attr("font-size", 58)
    .attr("letter-spacing", 2).text("Ozone (DU)");
});

svg.append("text").attr("class", "serif").attr("x", 283).attr("y", 160)
  .attr("font-size", 48).attr("font-weight", "bold").text("Fig.7");

// bottom legend
const leg7 = svg.append("g").attr("class", "sans");
leg7.append("rect").attr("x", 45).attr("y", 2119).attr("width", 18).attr("height", 18).attr("fill", "#ff0000");
const cl = leg7.append("text").attr("x", 155).attr("y", 2141).attr("font-size", 64).attr("fill", "#ff0000")
  .attr("textLength", 406).attr("lengthAdjust", "spacingAndGlyphs");
cl.append("tspan").text("Cie (mW/m");
cl.append("tspan").attr("font-size", 42).attr("dy", -27).text("2");
cl.append("tspan").attr("dy", 27).text(")");
leg7.append("text").attr("x", 623).attr("y", 2137).attr("font-size", 62).text("Day since 1/1/2000");
leg7.append("circle").attr("cx", 1224).attr("cy", 2122).attr("r", 9.5).attr("fill", "#0000ff");
leg7.append("text").attr("x", 1315).attr("y", 2141).attr("font-size", 62).attr("fill", "#0000ff").text("Ozone (DU)");

// ================= Fig.6 =================
const x6 = d3.scaleLinear().domain([40, 90]).range([1945, 2968]);
const y6 = d3.scaleLinear().domain([-80, 70]).range([880.6, -39.3]);
const yR = d3.scaleLinear().domain([0, 17]).range([879.5, 168.9]);
const f6 = svg.append("g").attr("class", "sans");

f6.append("line").attr("x1", x6(83)).attr("x2", x6(83)).attr("y1", 0).attr("y2", 674)
  .attr("stroke", "#7a7a7a").attr("stroke-width", 2).attr("stroke-dasharray", "18,11");

f6.append("g").selectAll("circle").data(tomsErr).join("circle")
  .attr("cx", d => x6(d[0])).attr("cy", d => y6(d[1])).attr("r", 5.5).attr("fill", "#000");
f6.append("g").selectAll("circle").data(dobsonErr).join("circle")
  .attr("cx", d => x6(d[0])).attr("cy", d => y6(d[1])).attr("r", 5.5).attr("fill", "#0000ff");
f6.append("g").selectAll("circle").data(tomsDobErr).join("circle")
  .attr("cx", d => x6(d[0])).attr("cy", d => y6(d[1])).attr("r", 5.5).attr("fill", "#ff0000");
const plus = (x, y, s) => `M${x - s},${y}h${2 * s}M${x},${y - s}v${2 * s}`;
f6.append("g").selectAll("path").data(evaErr).join("path")
  .attr("d", d => plus(x6(d[0]), y6(d[1]), 4.5)).attr("stroke", "#00ff00").attr("stroke-width", 2);

const ax6 = f6.append("g");
ax6.append("g").attr("transform", `translate(${x6(40)},0)`)
  .call(d3.axisLeft(y6).tickValues(errTicks).tickFormat(plain).tickSize(-16).tickPadding(18));
ax6.append("g").attr("transform", `translate(${x6(40)},0)`)
  .call(d3.axisLeft(y6).tickValues(d3.range(-75, 70, 10)).tickSize(-9).tickFormat(""));
ax6.append("g").attr("transform", `translate(0,${y6(-80)})`)
  .call(d3.axisBottom(x6).tickValues(szaTicks).tickFormat(plain).tickSize(-14).tickPadding(22));
ax6.append("g").attr("transform", `translate(0,${y6(-80)})`)
  .call(d3.axisBottom(x6).tickValues(d3.range(42.5, 90, 5)).tickSize(-8).tickFormat(""));
ax6.append("g").attr("transform", `translate(${x6(90)},0)`)
  .call(d3.axisRight(yR).tickValues(d3.range(0, 22)).tickSize(-12).tickFormat(""));
ax6.selectAll(".domain").remove();
ax6.selectAll(".tick line").attr("stroke", "#000").attr("stroke-width", 1.5);
ax6.selectAll("text").attr("fill", "#000").attr("font-size", 32);
ax6.selectAll("g").attr("font-family", null).attr("font-size", null);

const fr6 = f6.append("g").attr("stroke", "#000").attr("stroke-width", 1.8);
fr6.append("line").attr("x1", x6(40)).attr("x2", x6(40)).attr("y1", 0).attr("y2", y6(-80));
fr6.append("line").attr("x1", x6(90)).attr("x2", x6(90)).attr("y1", 0).attr("y2", y6(-80));
fr6.append("line").attr("x1", x6(40)).attr("x2", x6(90)).attr("y1", y6(-80)).attr("y2", y6(-80));

f6.append("text").attr("x", 2449).attr("y", 961).attr("text-anchor", "middle").attr("font-size", 37).text("Noon SZA (º)");
f6.append("text").attr("transform", "translate(1839,419) rotate(-90)").attr("text-anchor", "middle")
  .attr("dy", "0.35em").attr("font-size", 34).text("Total Ozone Error (%)");

f6.append("g").selectAll("text").data(title6).join("text")
  .attr("x", 2248).attr("y", (d, i) => 23.5 + i * 42.5).attr("text-anchor", "middle")
  .attr("font-size", 40).attr("font-weight", "bold").text(d => d);

// legend
const lg = f6.append("g");
lg.append("rect").attr("x", 2269).attr("y", 674).attr("width", 683).attr("height", 183)
  .attr("fill", "#fff").attr("stroke", "#000").attr("stroke-width", 1.5);
const legColors = ["#000", "#0000ff", "#ff0000"];
legend6.forEach((t, i) => {
  const ly = 702 + i * 41;
  if (i < 3) lg.append("circle").attr("cx", 2366).attr("cy", ly).attr("r", 6.5).attr("fill", legColors[i]);
  else lg.append("path").attr("d", plus(2366, ly, 5.5)).attr("stroke", "#00ff00").attr("stroke-width", 2);
  lg.append("text").attr("x", 2466).attr("y", ly + 11.5).attr("font-size", 32).text(t);
});

const cap = svg.append("text").attr("class", "serif").attr("x", 2468).attr("y", 1028)
  .attr("text-anchor", "middle").attr("font-size", 43);
cap.append("tspan").attr("font-weight", "bold").text("Fig.6");
cap.append("tspan").text(".- Total ozone error vs noon zenith angle.");

// ================= text column =================
svg.append("text").attr("class", "serif").attr("x", 1906).attr("y", 1187)
  .attr("font-size", 84).attr("font-weight", "bold").text("OZONE & CIE EVOLUTION");

const colX = 1795, colW = 1334, lineY0 = 1339, lineGap = 77.5;
const tb = svg.append("g").attr("class", "serif").attr("font-size", 63);
bodyLines.forEach((line, i) => {
  const y = lineY0 + i * lineGap;
  if (lastLines.includes(i)) {
    tb.append("text").attr("x", colX).attr("y", y).text(line);
    return;
  }
  const words = line.split(" ");
  const nodes = words.map(w => tb.append("text").attr("y", y).text(w));
  const widths = nodes.map(n => n.node().getComputedTextLength());
  const gap = (colW - d3.sum(widths)) / (words.length - 1);
  let x = colX;
  nodes.forEach((n, k) => { n.attr("x", x); x += widths[k] + gap; });
});
</script>
</body>
</html>
